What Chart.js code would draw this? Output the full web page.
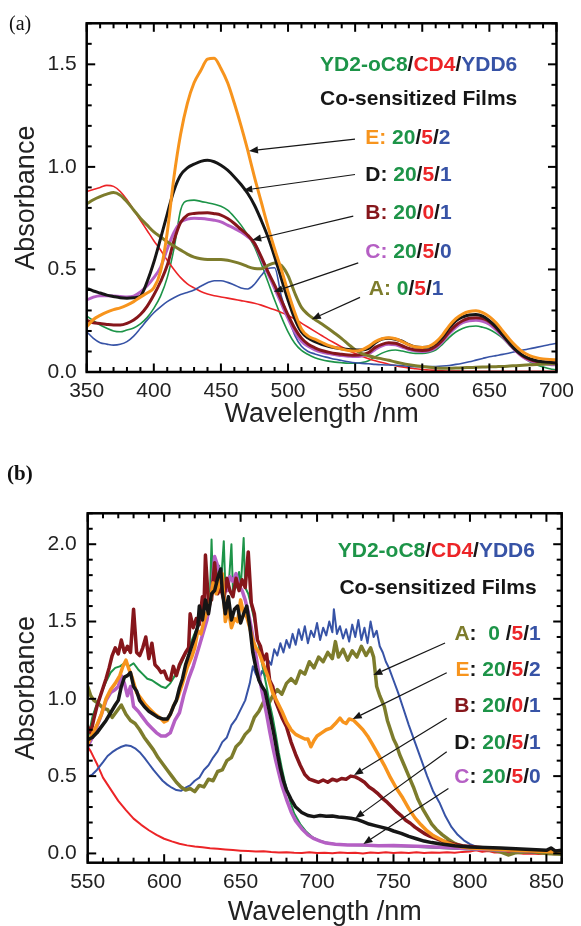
<!DOCTYPE html>
<html>
<head>
<meta charset="utf-8">
<title>YD2-oC8/CD4/YDD6 co-sensitized films</title>
<script src="https://cdn.jsdelivr.net/npm/chart.js@4.4.1/dist/chart.umd.min.js"></script>
<style>
  html, body { margin: 0; padding: 0; background: #fff; overflow: hidden; }
  #wrap { position: relative; width: 581px; height: 926px; }
  #wrap canvas { position: absolute; left: 0; }
  .tag { position: absolute; font-family: "Liberation Serif", "Times New Roman", serif; color: #111; line-height: 1; }
</style>
</head>
<body>
<div id="wrap">
  <canvas id="panelA" width="581" height="460" style="top:0;width:581px;height:460px"></canvas>
  <canvas id="panelB" width="581" height="466" style="top:460px;width:581px;height:466px"></canvas>
  <div class="tag" style="left:9px;top:13px;font-size:20px">(a)</div>
  <div class="tag" style="left:7px;top:463px;font-size:21px;font-weight:bold">(b)</div>
</div>
<script>
// ---------- panel (a): film spectra, 350-700 nm ----------
const wavelengthA = [350,355,360,365,370,375,380,385,390,395,400,405,410,415,420,425,430,435,440,445,
  450,455,460,465,470,475,480,485,490,495,500,505,510,515,520,525,530,535,540,545,
  550,555,560,565,570,575,580,585,590,595,600,605,610,615,620,625,630,635,640,645,
  650,655,660,665,670,675,680,685,690,695,700];

const absCD4_a = [0.88,0.89,0.90,0.91,0.905,0.88,0.84,0.79,0.74,0.69, 0.64,0.595,0.545,0.50,0.46,0.43,0.41,0.392,0.38,0.372,
  0.366,0.36,0.354,0.348,0.342,0.335,0.326,0.315,0.303,0.29, 0.276,0.258,0.238,0.218,0.198,0.178,0.158,0.14,0.122,0.105,
  0.09,0.077,0.065,0.055,0.046,0.038,0.031,0.025,0.02,0.016, 0.012,0.01,0.008,0.006,0.005,0.005,0.004,0.004,0.004,0.004,
  0.004,0.003,0.003,0.003,0.003,0.003,0.003,0.003,0.003,0.003,0.003];
const absFilmA_a = [0.82,0.84,0.855,0.867,0.875,0.862,0.83,0.79,0.75,0.716, 0.683,0.659,0.635,0.614,0.594,0.575,0.56,0.552,0.549,0.549,
  0.549,0.545,0.537,0.527,0.514,0.505,0.503,0.52,0.532,0.52, 0.47,0.385,0.315,0.28,0.256,0.235,0.212,0.188,0.163,0.135,
  0.108,0.09,0.079,0.071,0.064,0.057,0.049,0.042,0.036,0.031, 0.027,0.023,0.02,0.018,0.018,0.019,0.021,0.022,0.023,0.024,
  0.025,0.026,0.027,0.029,0.031,0.033,0.035,0.037,0.038,0.04,0.04];
const absYDD6_a = [0.196,0.164,0.143,0.136,0.131,0.135,0.148,0.175,0.213,0.253, 0.289,0.318,0.343,0.362,0.378,0.388,0.4,0.418,0.435,0.445,
  0.445,0.437,0.424,0.41,0.405,0.428,0.47,0.505,0.508,0.37, 0.27,0.18,0.125,0.1,0.088,0.078,0.07,0.062,0.056,0.05,
  0.045,0.042,0.04,0.037,0.035,0.034,0.033,0.031,0.028,0.026, 0.026,0.026,0.027,0.029,0.032,0.037,0.043,0.05,0.058,0.066,
  0.074,0.08,0.086,0.093,0.1,0.107,0.113,0.12,0.127,0.134,0.14];
const absYD2_a = [0.273,0.25,0.229,0.213,0.2,0.196,0.205,0.215,0.235,0.265, 0.31,0.37,0.46,0.6,0.79,0.835,0.838,0.832,0.825,0.818,
  0.808,0.789,0.756,0.716,0.667,0.61,0.529,0.44,0.351,0.269, 0.196,0.14,0.105,0.085,0.07,0.06,0.053,0.048,0.045,0.043,
  0.043,0.046,0.055,0.075,0.092,0.104,0.107,0.102,0.095,0.091, 0.091,0.095,0.107,0.135,0.168,0.195,0.212,0.222,0.224,0.218,
  0.207,0.188,0.164,0.13,0.1,0.072,0.05,0.035,0.025,0.016,0.01];
const absFilmB_a = [0.253,0.24,0.237,0.232,0.229,0.229,0.237,0.253,0.28,0.32, 0.375,0.44,0.52,0.64,0.73,0.765,0.773,0.775,0.776,0.772,
  0.765,0.748,0.724,0.695,0.667,0.627,0.562,0.489,0.424,0.351, 0.278,0.213,0.165,0.135,0.118,0.105,0.097,0.09,0.086,0.083,
  0.082,0.085,0.095,0.12,0.135,0.142,0.14,0.128,0.115,0.107, 0.105,0.108,0.125,0.155,0.195,0.228,0.25,0.262,0.265,0.26,
  0.245,0.215,0.18,0.14,0.105,0.078,0.062,0.052,0.047,0.045,0.044];
const absFilmC_a = [0.351,0.365,0.372,0.372,0.37,0.368,0.366,0.37,0.39,0.42, 0.46,0.51,0.6,0.68,0.73,0.745,0.75,0.748,0.745,0.74,
  0.732,0.716,0.7,0.683,0.659,0.627,0.554,0.481,0.407,0.334, 0.261,0.196,0.15,0.125,0.108,0.097,0.09,0.085,0.08,0.077,
  0.075,0.078,0.088,0.11,0.128,0.135,0.133,0.122,0.11,0.103, 0.1,0.103,0.118,0.148,0.186,0.218,0.24,0.25,0.252,0.247,
  0.233,0.205,0.172,0.135,0.1,0.073,0.055,0.045,0.04,0.037,0.035];
const absFilmD_a = [0.408,0.395,0.385,0.375,0.368,0.362,0.36,0.362,0.37,0.44, 0.535,0.65,0.77,0.885,0.96,0.995,1.013,1.027,1.032,1.025,
  1.008,0.984,0.951,0.914,0.87,0.813,0.74,0.659,0.562,0.456, 0.351,0.26,0.195,0.165,0.148,0.135,0.125,0.118,0.113,0.11,
  0.107,0.107,0.115,0.142,0.16,0.165,0.16,0.15,0.133,0.122, 0.12,0.122,0.14,0.17,0.215,0.25,0.268,0.278,0.28,0.272,
  0.25,0.22,0.18,0.14,0.105,0.08,0.065,0.055,0.05,0.047,0.045];
const absFilmE_a = [0.221,0.256,0.276,0.292,0.304,0.313,0.326,0.343,0.365,0.385, 0.41,0.49,0.68,0.95,1.16,1.31,1.41,1.47,1.525,1.53,
  1.48,1.41,1.31,1.2,1.08,0.95,0.83,0.71,0.6,0.5, 0.39,0.29,0.21,0.175,0.16,0.145,0.13,0.12,0.112,0.105,
  0.102,0.108,0.125,0.148,0.162,0.167,0.162,0.148,0.132,0.122, 0.12,0.125,0.145,0.18,0.225,0.26,0.283,0.295,0.298,0.29,
  0.27,0.24,0.2,0.16,0.125,0.097,0.08,0.07,0.064,0.061,0.06];

// ---------- panel (b): [wavelength nm, absorbance] pairs, 550-860 nm ----------
const specCD4_b = [[550,0.69],[552,0.66],[554,0.62],[556,0.58],[558,0.535],[560,0.49],[563,0.445],[566,0.40],[570,0.34],[575,0.28],
  [580,0.225],[585,0.185],[590,0.15],[595,0.12],[600,0.095],[605,0.078],[610,0.063],[615,0.052],[620,0.045],[625,0.04],
  [630,0.034],[635,0.03],[640,0.026],[645,0.022],[650,0.018],[655,0.015],[660,0.012],[665,0.014],[670,0.009],[675,0.006],
  [680,0.008],[685,0.004],[690,0.003],[695,0.007],[700,0.002],[705,0.005],[710,0.001],[715,0.006],[720,0.002],[725,0.005],
  [730,0.0],[735,0.006],[740,0.002],[745,0.007],[750,0.003],[755,0.006],[760,0.002],[765,0.007],[770,0.003],[775,0.006],
  [780,0.004],[785,0.008],[790,0.005],[795,0.01],[800,0.013],[804,0.02],[808,0.01],[812,0.016],[816,0.006],[820,0.008],
  [825,0.002],[830,0.004],[835,-0.002],[840,0.0],[845,-0.004],[850,0.0],[855,-0.005],[860,-0.002]];
const specYDD6_b = [[550,0.497],[553,0.51],[556,0.54],[560,0.59],[563,0.63],[566,0.655],[569,0.675],[572,0.69],[575,0.70],[578,0.695],
  [581,0.68],[584,0.655],[587,0.62],[590,0.58],[593,0.54],[596,0.505],[599,0.47],[602,0.445],[605,0.425],[608,0.41],
  [611,0.405],[614,0.425],[617,0.44],[620,0.47],[623,0.49],[626,0.54],[629,0.57],[632,0.62],[635,0.66],[638,0.72],
  [641,0.75],[644,0.83],[647,0.87],[650,0.93],[653,0.99],[656,1.1],[658,1.21],[660,1.16],[662,1.12],[664,1.18],
  [666,1.15],[668,1.25],[670,1.22],[672,1.32],[674,1.28],[676,1.36],[678,1.30],[680,1.38],[682,1.33],[684,1.42],
  [686,1.35],[688,1.45],[690,1.38],[692,1.47],[694,1.36],[696,1.44],[698,1.40],[700,1.49],[702,1.38],[704,1.46],
  [706,1.41],[708,1.50],[710,1.43],[711,1.58],[713,1.42],[715,1.47],[717,1.39],[719,1.45],[721,1.37],[723,1.48],
  [725,1.40],[727,1.51],[729,1.38],[731,1.46],[733,1.36],[735,1.50],[737,1.40],[739,1.44],[741,1.34],[743,1.30],
  [745,1.24],[747,1.20],[750,1.12],[753,1.04],[756,0.95],[760,0.83],[764,0.72],[768,0.61],[772,0.50],[776,0.40],
  [780,0.33],[784,0.24],[788,0.17],[792,0.12],[796,0.085],[800,0.06],[805,0.04],[810,0.03],[815,0.022],[820,0.015],
  [830,0.012],[840,0.006],[850,0.003],[860,0.0]];
const specFilmA_b = [[550,1.08],[552,1.02],[554,0.99],[557,0.97],[560,0.94],[563,0.93],[566,0.88],[569,0.92],[572,0.96],[575,0.90],
  [578,0.86],[581,0.84],[584,0.80],[587,0.75],[590,0.71],[593,0.67],[596,0.62],[599,0.58],[602,0.54],[605,0.50],
  [608,0.46],[611,0.43],[614,0.41],[617,0.42],[620,0.40],[623,0.44],[626,0.43],[629,0.48],[632,0.47],[635,0.53],
  [638,0.54],[641,0.60],[644,0.62],[647,0.69],[650,0.72],[653,0.77],[656,0.80],[659,0.88],[662,0.92],[665,0.98],
  [668,0.96],[671,1.02],[674,1.06],[677,1.03],[680,1.10],[683,1.13],[686,1.10],[689,1.18],[692,1.16],[695,1.24],
  [698,1.20],[701,1.27],[704,1.24],[707,1.30],[710,1.26],[712,1.37],[714,1.27],[717,1.32],[720,1.25],[723,1.31],
  [726,1.27],[729,1.34],[732,1.28],[735,1.33],[737,1.27],[739,1.08],[741,1.02],[744,0.95],[746,0.86],[748,0.80],
  [750,0.74],[752,0.70],[754,0.64],[757,0.57],[760,0.50],[763,0.43],[766,0.35],[769,0.29],[772,0.24],[775,0.19],
  [778,0.155],[782,0.12],[786,0.09],[790,0.065],[795,0.045],[800,0.035],[805,0.03],[810,0.025],[815,0.02],[820,0.01],
  [825,-0.01],[830,0.005],[840,0.012],[850,0.0],[860,-0.005]];
const specYD2_b = [[550,0.735],[553,0.88],[556,0.97],[559,1.04],[562,1.11],[565,1.17],[568,1.2],[571,1.21],[574,1.23],[577,1.21],
  [580,1.23],[583,1.19],[586,1.16],[589,1.13],[592,1.12],[595,1.1],[598,1.08],[601,1.07],[604,1.1],[607,1.15],
  [610,1.2],[613,1.27],[616,1.33],[619,1.4],[622,1.47],[625,1.55],[628,1.62],[630,1.68],[631,2.03],[632,1.70],
  [634,1.72],[636,1.86],[637,1.72],[639,2.02],[640,1.72],[642,1.70],[644,2.00],[645,1.70],[647,1.72],[649,1.82],
  [650,1.70],[652,2.04],[653,1.72],[655,1.68],[657,1.6],[659,1.51],[661,1.40],[663,1.28],[665,1.18],[667,1.08],
  [669,0.97],[671,0.88],[673,0.77],[675,0.65],[677,0.55],[679,0.46],[682,0.35],[685,0.26],[689,0.19],[693,0.14],
  [697,0.105],[701,0.085],[706,0.07],[712,0.06],[720,0.055],[740,0.05],[760,0.045],[780,0.035],[800,0.025],[820,0.02],
  [840,0.012],[860,0.01]];
const specFilmB_b = [[550,0.82],[552,0.78],[554,0.87],[556,0.95],[558,1.01],[560,1.07],[562,1.13],[564,1.2],[566,1.28],[568,1.33],
  [570,1.29],[572,1.38],[574,1.30],[576,1.34],[578,1.30],[580,1.58],[582,1.30],[584,1.28],[586,1.33],[588,1.40],
  [590,1.26],[592,1.36],[594,1.22],[596,1.2],[598,1.17],[600,1.18],[602,1.13],[604,1.12],[606,1.21],[608,1.15],
  [610,1.22],[612,1.26],[614,1.3],[616,1.33],[617,1.55],[619,1.46],[621,1.52],[623,1.48],[625,1.66],[626,1.58],
  [627,1.93],[629,1.62],[631,1.64],[633,1.88],[635,1.68],[637,1.72],[639,1.64],[641,1.78],[643,1.70],[645,1.66],
  [647,1.78],[649,1.70],[651,1.77],[653,1.72],[655,1.95],[657,1.62],[659,1.55],[661,1.38],[663,1.34],[665,1.25],
  [667,1.29],[669,1.12],[671,1.08],[673,0.98],[675,0.93],[677,0.88],[680,0.82],[683,0.72],[686,0.64],[689,0.57],
  [692,0.51],[695,0.48],[698,0.47],[701,0.46],[704,0.475],[707,0.46],[710,0.48],[713,0.47],[716,0.485],[719,0.48],
  [722,0.5],[725,0.495],[728,0.48],[731,0.46],[734,0.43],[737,0.41],[740,0.385],[743,0.355],[746,0.33],[749,0.3],
  [752,0.27],[755,0.245],[758,0.215],[761,0.195],[764,0.17],[767,0.15],[770,0.13],[774,0.11],[778,0.095],[782,0.08],
  [786,0.07],[790,0.06],[795,0.05],[800,0.045],[810,0.035],[820,0.028],[830,0.022],[840,0.018],[850,0.015],[860,0.012]];
const specFilmC_b = [[550,0.69],[553,0.75],[556,0.82],[559,0.9],[562,0.99],[565,1.04],[568,1.06],[570,1.08],[572,1.15],[574,1.10],
  [576,1.02],[578,1.08],[580,0.95],[583,0.92],[586,0.88],[589,0.84],[592,0.81],[595,0.78],[598,0.76],[601,0.76],
  [604,0.78],[607,0.86],[610,0.91],[613,1.03],[616,1.13],[619,1.21],[622,1.31],[625,1.41],[628,1.51],[631,1.68],
  [633,1.92],[635,1.86],[637,1.79],[639,1.74],[641,1.70],[643,1.79],[645,1.76],[647,1.81],[649,1.73],[651,1.70],
  [653,1.64],[655,1.56],[657,1.46],[659,1.34],[661,1.22],[663,1.1],[665,1.0],[667,0.9],[669,0.79],[671,0.69],
  [673,0.6],[675,0.52],[677,0.44],[680,0.35],[683,0.27],[686,0.21],[690,0.16],[694,0.12],[698,0.095],[702,0.08],
  [706,0.067],[712,0.06],[720,0.055],[730,0.055],[740,0.05],[750,0.052],[760,0.048],[770,0.045],[780,0.04],[790,0.035],
  [800,0.03],[820,0.022],[840,0.016],[860,0.012]];
const specFilmE_b = [[550,0.71],[553,0.77],[556,0.83],[559,0.9],[562,1.0],[565,1.06],[568,1.1],[571,1.15],[573,1.21],[575,1.25],
  [577,1.19],[579,1.14],[582,1.04],[585,1.0],[588,0.96],[591,0.93],[594,0.9],[597,0.88],[600,0.85],[602,0.86],
  [604,0.9],[606,0.95],[609,1.01],[612,1.1],[615,1.2],[618,1.27],[620,1.33],[622,1.44],[624,1.42],[626,1.5],
  [628,1.56],[630,1.62],[632,1.75],[634,1.68],[636,1.74],[638,1.81],[640,1.5],[642,1.58],[644,1.46],[646,1.52],
  [648,1.5],[650,1.64],[652,1.55],[654,1.53],[656,1.46],[658,1.38],[660,1.33],[662,1.3],[665,1.22],[668,1.14],
  [671,1.04],[674,0.98],[677,0.92],[680,0.85],[683,0.8],[686,0.77],[689,0.755],[692,0.74],[694,0.74],[696,0.69],
  [698,0.73],[700,0.76],[703,0.78],[706,0.8],[709,0.81],[712,0.84],[715,0.875],[717,0.85],[719,0.84],[721,0.87],
  [724,0.86],[727,0.83],[730,0.8],[733,0.76],[736,0.71],[740,0.64],[744,0.57],[748,0.49],[752,0.42],[756,0.36],
  [760,0.29],[764,0.23],[768,0.185],[772,0.145],[776,0.115],[780,0.095],[785,0.07],[790,0.052],[795,0.042],[800,0.035],
  [810,0.03],[820,0.025],[830,0.02],[845,0.014],[860,0.01]];
const specFilmD_b = [[550,0.735],[553,0.75],[556,0.78],[559,0.82],[562,0.86],[565,0.91],[568,0.96],[570,0.99],[572,1.08],[574,1.14],
  [576,1.15],[578,1.17],[580,1.08],[582,1.05],[584,0.99],[587,0.95],[590,0.92],[593,0.9],[596,0.88],[599,0.87],
  [602,0.87],[604,0.9],[606,0.95],[608,0.99],[610,1.07],[612,1.13],[614,1.22],[616,1.28],[618,1.34],[620,1.4],
  [622,1.47],[623,1.6],[625,1.51],[627,1.64],[629,1.55],[631,1.68],[633,1.70],[635,1.78],[637,1.84],[638,1.70],
  [640,1.55],[642,1.66],[644,1.51],[646,1.58],[648,1.6],[650,1.49],[652,1.55],[654,1.60],[656,1.47],[658,1.3],
  [660,1.2],[662,1.12],[664,1.08],[666,1.05],[668,0.96],[670,0.86],[672,0.76],[674,0.65],[676,0.55],[678,0.47],
  [680,0.41],[683,0.35],[686,0.3],[690,0.265],[694,0.245],[698,0.238],[702,0.245],[706,0.24],[710,0.242],[714,0.235],
  [718,0.232],[722,0.228],[726,0.22],[730,0.205],[734,0.19],[738,0.18],[742,0.17],[746,0.16],[750,0.145],[755,0.13],
  [760,0.11],[765,0.095],[770,0.08],[775,0.07],[780,0.062],[785,0.056],[790,0.05],[800,0.042],[810,0.038],[820,0.035],
  [830,0.03],[840,0.025],[850,0.02],[853,0.035],[856,0.015],[860,0.02]];

// axis tick values
const xMajorA = [350,400,450,500,550,600,650,700];
const yMajorA = [0.0,0.5,1.0,1.5];
const xMajorB = [550,600,650,700,750,800,850];
const yMajorB = [0.0,0.5,1.0,1.5,2.0];

// ---------- styling ----------
const C_INK = '#161616';
const C_ORANGE = '#F7941D';
const C_DARKRED = '#86161B';
const C_PURPLE = '#B55FC4';
const C_OLIVE = '#7D7C2C';
const C_GREEN = '#1D9448';
const C_RED = '#EC2427';
const C_BLUE = '#3753A6';
const FONT = '"Liberation Sans", Arial, Helvetica, sans-serif';
Chart.defaults.font.family = FONT;

// frame + inward ticks (major and minor) on all four sides
function frameTicks(cfg) {
  const isMajor = (v, step) => Math.abs(v / step - Math.round(v / step)) < 1e-6;
  return {
    id: 'frameTicks',
    afterDatasetsDraw(chart) {
      const { ctx, chartArea, scales } = chart;
      const left = chartArea.left, right = chartArea.right, top = chartArea.top, bottom = chartArea.bottom;
      const xs = scales.x, ys = scales.y;
      ctx.save();
      ctx.fillStyle = '#000';
      const TW = 2;
      const i0 = Math.round(cfg.xRange[0] / cfg.xMinor), i1 = Math.round(cfg.xRange[1] / cfg.xMinor);
      for (let i = i0; i <= i1; i++) {
        const v = i * cfg.xMinor;
        if (v < cfg.xRange[0] - 1e-9 || v > cfg.xRange[1] + 1e-9) continue;
        const px = xs.getPixelForValue(v);
        const len = isMajor(v, cfg.xMajor) ? 8.5 : 5;
        ctx.fillRect(px - TW / 2, bottom - len, TW, len);
        ctx.fillRect(px - TW / 2, top, TW, len);
      }
      const j0 = Math.ceil(cfg.yRange[0] / cfg.yMinor - 1e-9), j1 = Math.floor(cfg.yRange[1] / cfg.yMinor + 1e-9);
      for (let j = j0; j <= j1; j++) {
        const v = j * cfg.yMinor;
        const py = ys.getPixelForValue(v);
        const len = isMajor(v, cfg.yMajor) ? 8.5 : 5;
        ctx.fillRect(left, py - TW / 2, len, TW);
        ctx.fillRect(right - len, py - TW / 2, len, TW);
      }
      ctx.strokeStyle = '#000';
      ctx.lineWidth = 2.5;
      ctx.strokeRect(left, top, right - left, bottom - top);
      ctx.restore();
    }
  };
}

// multi-coloured labels and leader arrows, anchored in data units
function annotate(notes) {
  return {
    id: 'annotate',
    afterDraw(chart) {
      const { ctx, scales: { x, y } } = chart;
      const P = (pt) => [x.getPixelForValue(pt[0]), y.getPixelForValue(pt[1])];
      ctx.save();
      ctx.font = 'bold 21px ' + FONT;
      ctx.textBaseline = 'middle';
      ctx.textAlign = 'left';
      for (const lab of notes.labels) {
        const [px, py] = P(lab.at);
        const total = lab.parts.reduce((s, p) => s + ctx.measureText(p[0]).width, 0);
        let cx = lab.align === 'right' ? px - total : px;
        for (const [txt, col] of lab.parts) {
          ctx.fillStyle = col;
          ctx.fillText(txt, cx, py);
          cx += ctx.measureText(txt).width;
        }
      }
      ctx.strokeStyle = C_INK;
      ctx.fillStyle = C_INK;
      ctx.lineWidth = 1.2;
      for (const [tail, head] of notes.arrows) {
        const [x0, y0] = P(tail), [x1, y1] = P(head);
        const ang = Math.atan2(y1 - y0, x1 - x0);
        const L = 9, W = 3.6;
        const bx = x1 - L * Math.cos(ang), by = y1 - L * Math.sin(ang);
        ctx.beginPath(); ctx.moveTo(x0, y0); ctx.lineTo(bx, by); ctx.stroke();
        ctx.beginPath();
        ctx.moveTo(x1, y1);
        ctx.lineTo(bx + W * Math.sin(ang), by - W * Math.cos(ang));
        ctx.lineTo(bx - W * Math.sin(ang), by + W * Math.cos(ang));
        ctx.closePath(); ctx.fill();
      }
      ctx.restore();
    }
  };
}

const headerParts = [['YD2-oC8', C_GREEN], ['/', C_INK], ['CD4', C_RED], ['/', C_INK], ['YDD6', C_BLUE]];
const filmsParts = [['Co-sensitized Films', C_INK]];

function line(label, points, color, width, smooth) {
  return {
    label, data: points, borderColor: color, backgroundColor: color, borderWidth: width,
    pointRadius: 0, fill: false, borderJoinStyle: 'round', borderCapStyle: 'round',
    cubicInterpolationMode: smooth ? 'monotone' : 'default', tension: 0
  };
}

function panel(canvasId, spec) {
  const tickCfg = Object.assign({ xRange: spec.xRange, yRange: spec.yRange }, spec.ticks);
  return new Chart(document.getElementById(canvasId), {
    type: 'line',
    data: { datasets: spec.datasets.slice().reverse() },
    options: {
      responsive: false, animation: false, devicePixelRatio: 1,
      layout: { padding: spec.padding },
      plugins: { legend: { display: false }, tooltip: { enabled: false } },
      scales: {
        x: {
          type: 'linear', min: spec.xRange[0], max: spec.xRange[1],
          grid: { display: false, drawTicks: false }, border: { display: false },
          ticks: { autoSkip: false, maxRotation: 0, padding: spec.xTickPad, color: '#222', font: { size: 21 }, callback: v => String(v) },
          afterBuildTicks: s => { s.ticks = spec.xMajor.map(v => ({ value: v })); },
          afterFit: s => { s.height = spec.xHeight; },
          title: { display: true, text: 'Wavelength /nm', color: '#222', font: { size: 27, lineHeight: 1 }, padding: { top: 0, bottom: spec.xTitlePad } }
        },
        y: {
          type: 'linear', min: spec.yRange[0], max: spec.yRange[1],
          grid: { display: false, drawTicks: false }, border: { display: false },
          ticks: { autoSkip: false, padding: spec.yTickPad, color: '#222', font: { size: 21 }, callback: v => Number(v).toFixed(1) },
          afterBuildTicks: s => { s.ticks = spec.yMajor.map(v => ({ value: v })); },
          afterFit: s => { s.width = spec.yWidth; },
          title: { display: true, text: 'Absorbance', color: '#222', font: { size: 27, lineHeight: 1 }, padding: { top: 13.5, bottom: 0 } }
        }
      }
    },
    plugins: [frameTicks(tickCfg), annotate(spec.notes)]
  });
}

const onGridA = vals => wavelengthA.map((nm, i) => ({ x: nm, y: vals[i] }));
const fromPairs = pairs => pairs.map(([nm, a]) => ({ x: nm, y: a }));

// panel (a) — datasets listed bottom to top
panel('panelA', {
  datasets: [
    line('YD2-oC8', onGridA(absYD2_a), C_GREEN, 1.6, true),
    line('CD4', onGridA(absCD4_a), C_RED, 1.6, true),
    line('YDD6', onGridA(absYDD6_a), C_BLUE, 1.6, true),
    line('C: 20/5/0', onGridA(absFilmC_a), C_PURPLE, 3, true),
    line('B: 20/0/1', onGridA(absFilmB_a), C_DARKRED, 3, true),
    line('A: 0/5/1', onGridA(absFilmA_a), C_OLIVE, 3, true),
    line('D: 20/5/1', onGridA(absFilmD_a), C_INK, 3, true),
    line('E: 20/5/2', onGridA(absFilmE_a), C_ORANGE, 3, true)
  ],
  xRange: [350, 700], yRange: [0, 1.7], xMajor: xMajorA, yMajor: yMajorA,
  padding: { left: 0, right: 21.7, top: 23.3, bottom: 0 },
  yWidth: 86.7, xHeight: 88, xTitlePad: 31.5, yTickPad: 10, xTickPad: 7,
  ticks: { xMinor: 10, xMajor: 50, yMinor: 0.1, yMajor: 0.5 },
  notes: {
    labels: [
      { at: [670.8, 1.495], align: 'right', parts: headerParts },
      { at: [670.8, 1.33], align: 'right', parts: filmsParts },
      { at: [557.5, 1.138], align: 'left', parts: [['E: ', C_ORANGE], ['20', C_GREEN], ['/', C_INK], ['5', C_RED], ['/', C_INK], ['2', C_BLUE]] },
      { at: [557.5, 0.96], align: 'left', parts: [['D: ', C_INK], ['20', C_GREEN], ['/', C_INK], ['5', C_RED], ['/', C_INK], ['1', C_BLUE]] },
      { at: [557.5, 0.773], align: 'left', parts: [['B: ', C_DARKRED], ['20', C_GREEN], ['/', C_INK], ['0', C_RED], ['/', C_INK], ['1', C_BLUE]] },
      { at: [557.5, 0.586], align: 'left', parts: [['C: ', C_PURPLE], ['20', C_GREEN], ['/', C_INK], ['5', C_RED], ['/', C_INK], ['0', C_BLUE]] },
      { at: [560.2, 0.403], align: 'left', parts: [['A: ', C_OLIVE], ['0', C_GREEN], ['/', C_INK], ['5', C_RED], ['/', C_INK], ['1', C_BLUE]] }
    ],
    arrows: [
      [[549.9, 1.135], [470.9, 1.078]],
      [[549.9, 0.963], [466.7, 0.886]],
      [[548.6, 0.760], [473.3, 0.643]],
      [[552.3, 0.532], [489.4, 0.391]],
      [[553.6, 0.364], [517.7, 0.257]]
    ]
  }
});

// panel (b) — datasets listed bottom to top
panel('panelB', {
  datasets: [
    line('CD4', fromPairs(specCD4_b), C_RED, 2, false),
    line('YDD6', fromPairs(specYDD6_b), C_BLUE, 2, false),
    line('A: 0/5/1', fromPairs(specFilmA_b), C_OLIVE, 3.5, false),
    line('YD2-oC8', fromPairs(specYD2_b), C_GREEN, 2, false),
    line('C: 20/5/0', fromPairs(specFilmC_b), C_PURPLE, 3.5, false),
    line('B: 20/0/1', fromPairs(specFilmB_b), C_DARKRED, 3.5, false),
    line('E: 20/5/2', fromPairs(specFilmE_b), C_ORANGE, 3.5, false),
    line('D: 20/5/1', fromPairs(specFilmD_b), C_INK, 3.5, false)
  ],
  xRange: [550, 860], yRange: [-0.06, 2.2], xMajor: xMajorB, yMajor: yMajorB,
  padding: { left: 0, right: 19.3, top: 53.3, bottom: 0 },
  yWidth: 87.7, xHeight: 63.3, xTitlePad: 0, yTickPad: 11, xTickPad: 7,
  ticks: { xMinor: 10, xMajor: 50, yMinor: 0.1, yMajor: 0.5 },
  notes: {
    labels: [
      { at: [842.5, 1.957], align: 'right', parts: headerParts },
      { at: [843.6, 1.715], align: 'right', parts: filmsParts },
      { at: [846.3, 1.42], align: 'right', parts: [['A', C_OLIVE], [':  ', C_INK], ['0 ', C_GREEN], ['/', C_INK], ['5', C_RED], ['/', C_INK], ['1', C_BLUE]] },
      { at: [846.3, 1.187], align: 'right', parts: [['E', C_ORANGE], [': ', C_INK], ['20', C_GREEN], ['/', C_INK], ['5', C_RED], ['/', C_INK], ['2', C_BLUE]] },
      { at: [846.3, 0.95], align: 'right', parts: [['B', C_DARKRED], [': ', C_INK], ['20', C_GREEN], ['/', C_INK], ['0', C_RED], ['/', C_INK], ['1', C_BLUE]] },
      { at: [846.3, 0.713], align: 'right', parts: [['D', C_INK], [': ', C_INK], ['20', C_GREEN], ['/', C_INK], ['5', C_RED], ['/', C_INK], ['1', C_BLUE]] },
      { at: [846.3, 0.49], align: 'right', parts: [['C', C_PURPLE], [': ', C_INK], ['20', C_GREEN], ['/', C_INK], ['5', C_RED], ['/', C_INK], ['0', C_BLUE]] }
    ],
    arrows: [
      [[783.7, 1.361], [736.8, 1.154]],
      [[784.8, 1.169], [723.3, 0.869]],
      [[784.8, 0.874], [724.2, 0.507]],
      [[784.8, 0.658], [725.0, 0.228]],
      [[785.9, 0.420], [730.3, 0.061]]
    ]
  }
});
</script>
</body>
</html>
